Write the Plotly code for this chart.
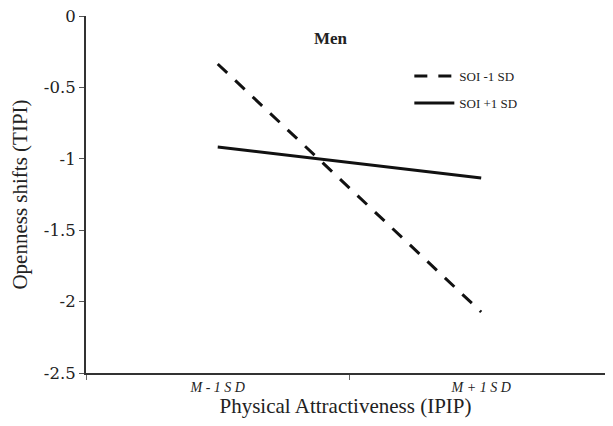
import plotly.graph_objects as go

categories = ["M - 1 S D", "M + 1 S D"]
tick_labels = ["<i>M - 1 S D</i>", "<i>M + 1 S D</i>"]
soi_minus = [-0.336, -2.073]
soi_plus = [-0.917, -1.134]
y_ticks = [0, -0.5, -1, -1.5, -2, -2.5]
y_tick_text = ["0", "-0.5", "-1", "-1.5", "-2", "-2.5"]

FONT = "Liberation Serif"
INK = "#222222"

fig = go.Figure()
fig.add_trace(go.Scatter(x=categories, y=soi_minus, mode="lines", name="SOI -1 SD",
                         legend="legend",
                         line=dict(color="#111111", width=3, dash="13px,11px")))
fig.add_trace(go.Scatter(x=categories, y=soi_plus, mode="lines", name="SOI +1 SD",
                         legend="legend2",
                         line=dict(color="#111111", width=3)))

legend_common = dict(xanchor="left", yanchor="middle", bgcolor="rgba(0,0,0,0)",
                     itemwidth=40,
                     font=dict(family=FONT, size=13, color=INK))

fig.update_layout(
    width=597, height=410,
    margin=dict(l=78, r=0, t=8, b=45, autoexpand=False),
    paper_bgcolor="white", plot_bgcolor="white",
    font=dict(family=FONT, color=INK),
    showlegend=True,
    legend=dict(x=0.623, y=0.832, **legend_common),
    legend2=dict(x=0.623, y=0.756, **legend_common),
    annotations=[dict(text="<b>Men</b>", x=0.4725, y=0.938, xref="paper", yref="paper",
                      xanchor="center", yanchor="middle",
                      showarrow=False, font=dict(family=FONT, size=17, color=INK))],
)
fig.update_xaxes(
    type="category", categoryorder="array", categoryarray=categories,
    tickvals=categories, ticktext=tick_labels,
    range=[-0.5, 1.47], tickson="boundaries", ticks="outside", ticklen=5,
    tickcolor="#666666", showline=True, linecolor="#333333", linewidth=2,
    showgrid=False, zeroline=False,
    tickfont=dict(family=FONT, size=14, color=INK),
    title=dict(text="Physical Attractiveness (IPIP)", font=dict(family=FONT, size=21, color=INK), standoff=7),
)
fig.update_yaxes(
    range=[-2.5, 0], tickvals=y_ticks, ticktext=y_tick_text,
    ticks="outside", ticklen=5, tickcolor="#555555", ticklabeloverflow="allow",
    showline=True, linecolor="#333333", linewidth=2,
    showgrid=False, zeroline=False,
    tickfont=dict(family="DejaVu Serif", size=16.5, color=INK),
    title=dict(text="Openness shifts (TIPI)", font=dict(family=FONT, size=21, color=INK), standoff=14),
)

fig.write_html("out.html")
